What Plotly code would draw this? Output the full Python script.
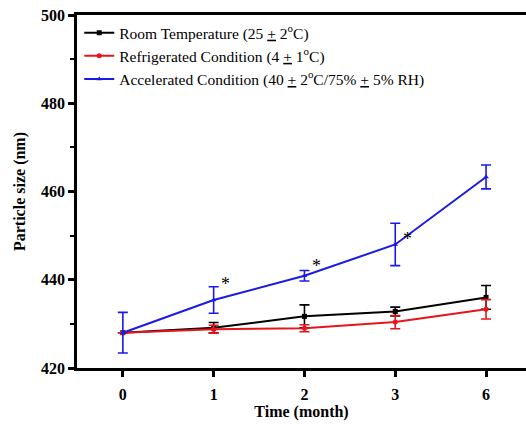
import plotly.graph_objects as go

months = ["0", "1", "2", "3", "6"]
room = [428.0, 429.1, 431.7, 432.8, 436.0]
room_err = [0.0, 1.2, 2.6, 1.0, 2.7]
fridge = [428.0, 428.8, 429.0, 430.4, 433.3]
fridge_err = [0.0, 0.9, 0.8, 1.5, 2.2]
accel = [428.0, 435.4, 440.9, 448.0, 463.3]
accel_err = [4.6, 3.0, 1.2, 4.8, 2.7]
star_months = ["1", "2", "3", "6"]
star_y = [439.0, 443.2, 449.2, 465.3]

names = ["Room Temperature (25 <u>+</u> 2<sup>o</sup>C)",
         "Refrigerated Condition (4 <u>+</u> 1<sup>o</sup>C)",
         "Accelerated Condition (40 <u>+</u> 2<sup>o</sup>C/75% <u>+</u> 5% RH)"]

font = "Liberation Serif, Times New Roman, serif"
fig = go.Figure()
series = [(room, room_err, "black", "square"),
          (fridge, fridge_err, "#e8141c", "circle"),
          (accel, accel_err, "#1a1ae6", "triangle-up")]
for (vals, errs, col, sym), nm in zip(series, names):
    fig.add_trace(go.Scatter(
        x=months, y=vals, name=nm, mode="lines+markers",
        line=dict(color=col, width=2),
        marker=dict(color=col, symbol=sym, size=5),
        error_y=dict(type="data", array=errs, color=col, thickness=1.6, width=5),
    ))

for m, yv in zip(star_months, star_y):
    fig.add_annotation(x=m, y=yv, text="*", showarrow=False, xshift=12,
                       font=dict(family=font, size=18, color="black"))

fig.update_layout(
    width=526, height=427,
    margin=dict(l=77, r=0, t=15, b=59),
    paper_bgcolor="white", plot_bgcolor="white",
    font=dict(family=font, color="black"),
    showlegend=True,
    legend=dict(x=0.005, y=0.997, xanchor="left", yanchor="top",
                font=dict(family=font, size=15.5, color="black"),
                bgcolor="rgba(0,0,0,0)", tracegroupgap=0, itemwidth=30),
)
fig.update_xaxes(
    type="category", range=[-0.505, 4.44],
    showline=True, linecolor="black", linewidth=2.5, mirror=True,
    ticks="outside", ticklen=6, tickwidth=2.5, tickcolor="black",
    ticklabelstandoff=4,
    showgrid=False, zeroline=False,
    tickfont=dict(family=font, size=16, color="black", weight="bold"),
    title=dict(text="<b>Time (month)</b>", font=dict(family=font, size=16, color="black"), standoff=3),
)
fig.update_yaxes(
    range=[420, 500], dtick=20,
    showline=True, linecolor="black", linewidth=2.5,
    ticks="outside", ticklen=6, tickwidth=2.5, tickcolor="black",
    minor=dict(ticks="outside", dtick=10, ticklen=4, tickwidth=2, tickcolor="black", showgrid=False),
    showgrid=False, zeroline=False,
    tickfont=dict(family=font, size=16, color="black", weight="bold"),
    title=dict(text="<b>Particle size (nm)</b>", font=dict(family=font, size=16, color="black"), standoff=12),
)

fig.write_html("out.html")
